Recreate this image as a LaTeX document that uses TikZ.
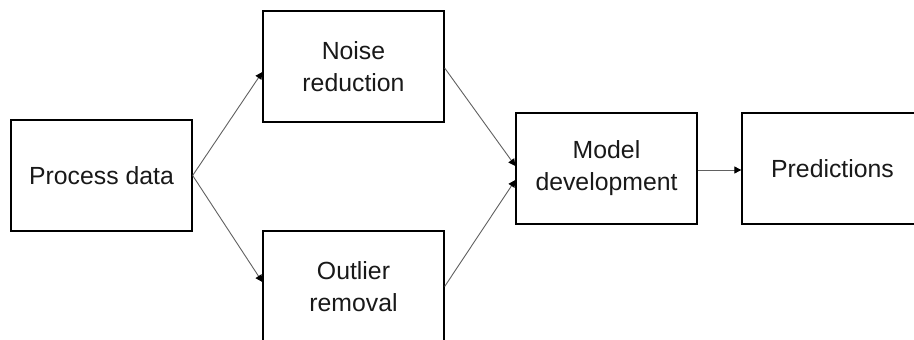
\documentclass[tikz,border=0pt]{standalone}
\usepackage{fontspec}
\setmainfont{Liberation Sans}
\usetikzlibrary{arrows.meta}
\begin{document}
\begin{tikzpicture}[x=1pt,y=-1pt,
  box/.style={draw=black,line width=1.3pt,minimum width=181pt,minimum height=111pt,
    align=center,font=\fontsize{24.8}{32}\selectfont,text=black!90,inner sep=0pt},
  conn/.style={draw=black!62,line width=0.9pt,-{Triangle[length=7pt,width=7pt,color=black,fill=black]}}]
\useasboundingbox[fill=white] (0,0) rectangle (914,340);
\node[box] (pd) at (101.5,175.5) {Process data};
\node[box] (nr) at (353.5,66.5) {Noise\\reduction};
\node[box] (or) at (353.5,286.5) {Outlier\\removal};
\node[box] (md) at (606.5,168.5) {Model\\development};
\node[box] (pr) at (832.5,168.5) {Predictions};
\draw[conn] (pd.east) -- ([yshift=-5.5pt]nr.west);
\draw[conn] (pd.east) -- ([yshift=4.5pt]or.west);
\draw[conn] ([yshift=-1.5pt]nr.east) -- ([yshift=2.5pt]md.west);
\draw[conn] (or.east) -- ([yshift=-11.5pt]md.west);
\draw[conn] ([yshift=-1.5pt]md.east) -- ([yshift=-1.5pt]pr.west);
\end{tikzpicture}
\end{document}
